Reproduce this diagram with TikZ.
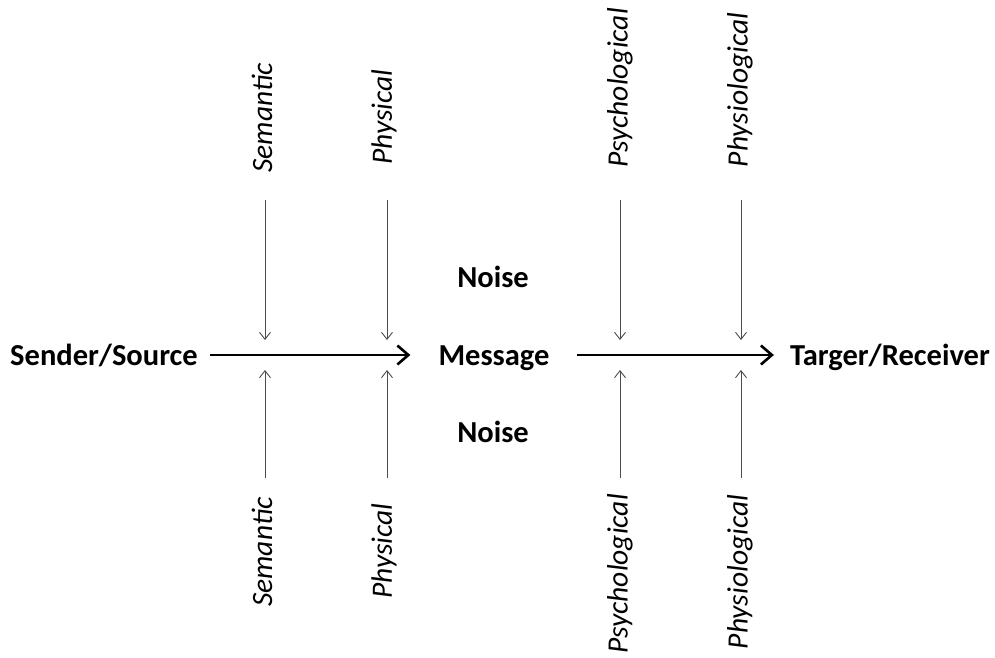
\documentclass[tikz,border=0pt]{standalone}
\usepackage{fontspec}
\setmainfont{Carlito}
\usetikzlibrary{arrows.meta}
\tikzset{
  main/.style={font=\bfseries\fontsize{30.5}{36}\selectfont, inner sep=0pt, anchor=base},
  noiselbl/.style={font=\bfseries\fontsize{30.5}{36}\selectfont, inner sep=0pt, anchor=base},
  kind/.style={font=\itshape\fontsize{29.5}{34}\selectfont, rotate=90, inner sep=0pt},
  flow/.style={line width=2.6pt, -{Straight Barb[length=11pt,width=19pt,line width=2.6pt]}},
  noisearrow/.style={draw=black!70, line width=0.9pt, -{Straight Barb[length=7pt,width=11pt,line width=0.9pt]}}
}
\begin{document}
\begin{tikzpicture}[x=1pt,y=-1pt]
\useasboundingbox (0,0) rectangle (995,657);
% level of the channel
\coordinate (chan) at (0,355);
% endpoints of the communication chain
\node[main] (src) at (104,365) {Sender/Source};
\node[main] (msg) at (494,365) {Message};
\node[main] (rcv) at (890,365) {Targer/Receiver};
\node[noiselbl] (n1) at (493,287) {Noise};
\node[noiselbl] (n2) at (493,442) {Noise};
% flow of the message
\draw[flow, shorten <=12pt, shorten >=28pt] (src.east |- chan) -- (msg.west |- chan);
\draw[flow, shorten <=27pt, shorten >=16pt] (msg.east |- chan) -- (rcv.west |- chan);
% kinds of noise, above the channel
\node[kind] (ts) at (262,118) {Semantic};
\node[kind] (tp) at (384,117) {Physical};
\node[kind] (tps) at (620,88) {Psychological};
\node[kind] (tph) at (740,90) {Physiological};
% kinds of noise, below the channel
\node[kind] (bs) at (262,552) {Semantic};
\node[kind] (bp) at (384,551) {Physical};
\node[kind] (bps) at (620,574) {Psychological};
\node[kind] (bph) at (740,572) {Physiological};
% noise entering the channel
\foreach \x/\n in {265/a,387/b,620/c,741/d}{
  \coordinate (u\n) at (\x,200);
  \coordinate (ue\n) at (\x,340);
  \coordinate (l\n) at (\x,478);
  \coordinate (le\n) at (\x,370);
  \draw[noisearrow] (u\n) -- (ue\n);
  \draw[noisearrow] (l\n) -- (le\n);
}
\end{tikzpicture}
\end{document}
